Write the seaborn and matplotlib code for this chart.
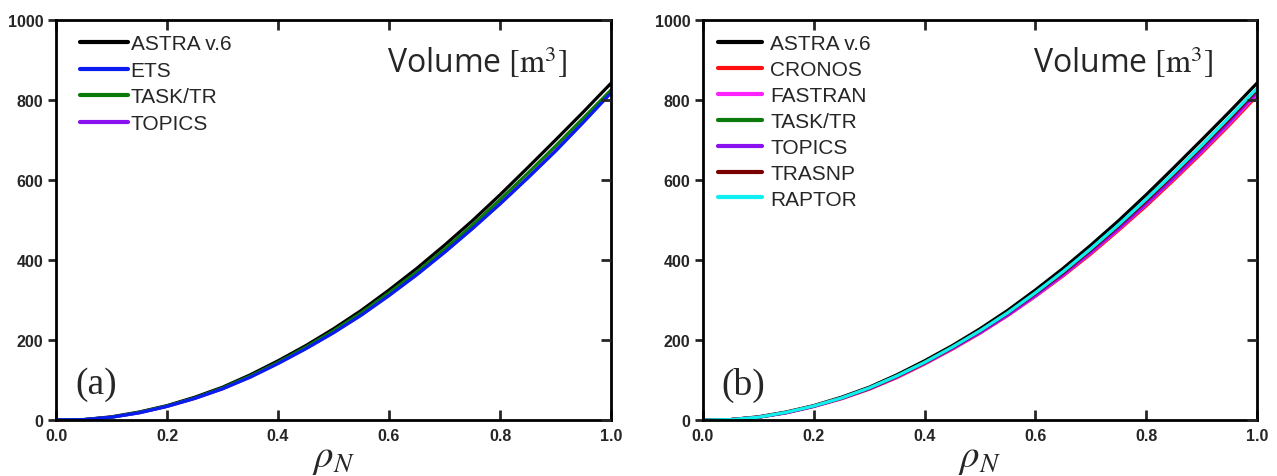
import numpy as np
import pandas as pd
import matplotlib
matplotlib.use("Agg")
import matplotlib.pyplot as plt
from matplotlib.lines import Line2D
import seaborn as sns

rho = [0.0, 0.05, 0.10, 0.15, 0.20, 0.25, 0.30, 0.35, 0.40, 0.45, 0.50,
       0.55, 0.60, 0.65, 0.70, 0.75, 0.80, 0.85, 0.90, 0.95, 1.00]

astra   = [0, 1, 8, 20, 36, 57, 82, 113, 148, 186, 228, 274, 325, 379, 437, 498, 563, 631, 700, 770, 842]
ets     = [0, 1, 7, 18, 34, 54, 78, 107, 141, 178, 218, 262, 311, 363, 419, 478, 540, 605, 672, 744, 818]
tasktr  = [0, 1, 7, 19, 35, 55, 80, 110, 144, 182, 223, 268, 318, 370, 427, 487, 551, 617, 685, 755, 825]
topics  = [0, 1, 7, 18, 34, 54, 78, 108, 142, 179, 219, 263, 312, 364, 420, 479, 541, 606, 674, 745, 819]
cronos  = [0, 1, 7, 18, 34, 53, 77, 106, 140, 177, 217, 261, 309, 360, 415, 474, 535, 600, 667, 737, 810]
fastran = [0, 1, 7, 18, 34, 54, 78, 107, 141, 178, 218, 262, 310, 362, 418, 477, 539, 604, 671, 741, 815]
trasnp  = [0, 1, 7, 19, 35, 55, 79, 109, 143, 181, 222, 267, 316, 368, 425, 485, 548, 614, 682, 752, 825]
raptor  = [0, 1, 7, 19, 35, 55, 80, 110, 144, 182, 223, 268, 318, 371, 428, 488, 552, 618, 686, 757, 829]

left_codes = ["ASTRA v.6", "ETS", "TASK/TR", "TOPICS"]
left_vals = {"ASTRA v.6": astra, "ETS": ets, "TASK/TR": tasktr, "TOPICS": topics}
left_draw = ["ASTRA v.6", "TOPICS", "TASK/TR", "ETS"]
right_codes = ["ASTRA v.6", "CRONOS", "FASTRAN", "TASK/TR", "TOPICS", "TRASNP", "RAPTOR"]
right_vals = {"ASTRA v.6": astra, "CRONOS": cronos, "FASTRAN": fastran,
              "TASK/TR": tasktr, "TOPICS": topics, "TRASNP": trasnp, "RAPTOR": raptor}
right_draw = right_codes

colors = {"ASTRA v.6": "#000000", "ETS": "#0a1cf0", "TASK/TR": "#0a7a0a",
          "TOPICS": "#8a10f0", "CRONOS": "#ff1010", "FASTRAN": "#ff20ff",
          "TRASNP": "#7a0000", "RAPTOR": "#10f0f0"}

x_ticks = [0.0, 0.2, 0.4, 0.6, 0.8, 1.0]
y_ticks = [0, 200, 400, 600, 800, 1000]

sns.set_style("white")
plt.rcParams["mathtext.fontset"] = "stix"

fig = plt.figure(figsize=(12.77, 4.77), dpi=100)
axL = fig.add_axes([0.0439, 0.1174, 0.4346, 0.8386])
axR = fig.add_axes([0.5505, 0.1174, 0.4338, 0.8386])


def make_df(order, vals):
    rows = []
    for c in order:
        for r, y in zip(rho, vals[c]):
            rows.append({"rho": r, "V": y, "code": c})
    return pd.DataFrame(rows)


def draw(ax, codes, order, vals, label, hl, htp, spacing, legend_x):
    df = make_df(order, vals)
    sns.lineplot(data=df, x="rho", y="V", hue="code", hue_order=order,
                 palette=colors, linewidth=2.3, ax=ax, legend=False,
                 estimator=None, sort=False)
    ax.set_xlim(0, 1.0)
    ax.set_ylim(0, 1000)
    ax.set_xticks(x_ticks)
    ax.set_yticks(y_ticks)
    ax.set_xticklabels([f"{t:.1f}" for t in x_ticks], fontweight="bold",
                       fontsize=11.5, family="Liberation Sans")
    ax.set_yticklabels([str(t) for t in y_ticks], fontweight="bold",
                       fontsize=11.5, family="Liberation Sans")
    for s in ax.spines.values():
        s.set_visible(True)
        s.set_color("black")
        s.set_linewidth(2)
    ax.tick_params(axis="x", direction="in", length=7, width=2, top=True,
                   bottom=True, pad=6)
    ax.tick_params(axis="y", direction="out", length=6, width=2, left=True,
                   right=False, pad=3)
    ax.set_xlabel(r"$\rho_N$", fontsize=28, labelpad=-4)
    ax.set_ylabel("")
    ax.text(0.922, 0.895, r"Volume $[\mathrm{m}^3]$", transform=ax.transAxes,
            ha="right", va="center", fontsize=23, family="Open Sans")
    ax.text(0.034, 0.09, label, transform=ax.transAxes, ha="left",
            va="center", fontsize=27, family="Liberation Serif")
    handles = [Line2D([], [], color=colors[c], lw=3) for c in codes]
    ax.legend(handles, codes, loc="upper left", bbox_to_anchor=(legend_x, 0.995),
              frameon=False, prop={"family": "Liberation Sans", "size": 15},
              handlelength=hl, handletextpad=htp,
              labelspacing=spacing, borderaxespad=0.2)
    tw = ax.twinx()
    tw.set_ylim(ax.get_ylim())
    tw.set_yticks(y_ticks)
    tw.set_yticklabels([])
    tw.tick_params(axis="y", direction="in", length=7, width=2)
    for s in tw.spines.values():
        s.set_visible(False)


draw(axL, left_codes, left_draw, left_vals, "(a)", 2.3, 0.15, 0.36, 0.02)
draw(axR, right_codes, right_draw, right_vals, "(b)", 2.1, 0.4, 0.33, 0.005)

fig.savefig("out.png", dpi=100)
